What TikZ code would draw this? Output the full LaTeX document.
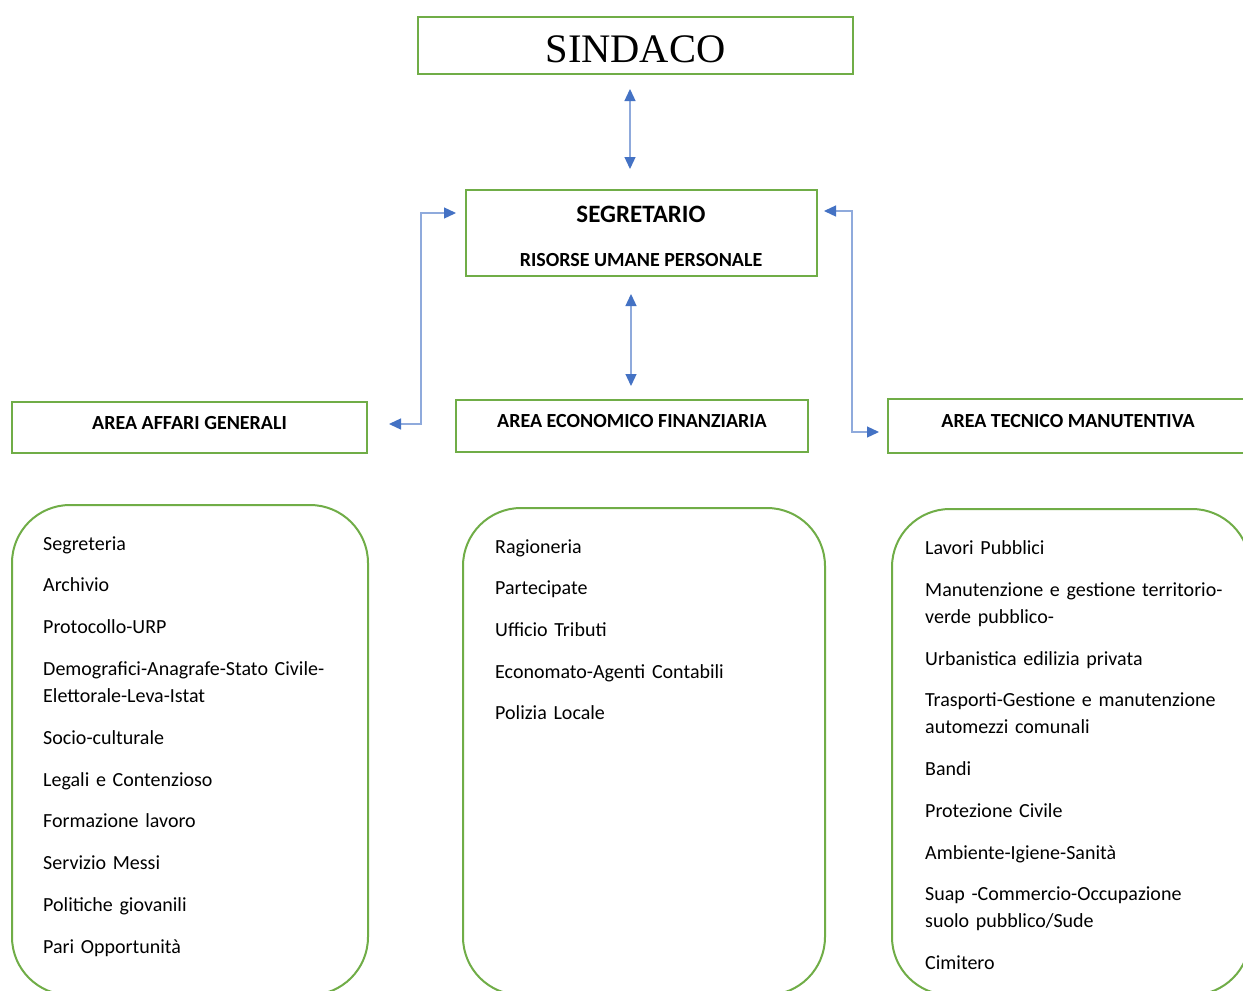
\documentclass[tikz,border=0pt]{standalone}
\usepackage{fontspec}
\setmainfont{Carlito}
\newfontfamily\sindacofont{Liberation Serif}
\usetikzlibrary{arrows.meta}
\definecolor{boxgreen}{HTML}{70AD47}
\definecolor{arrblue}{HTML}{4472C4}
\definecolor{lineblue}{HTML}{8FAADC}

\tikzset{
  box/.style={draw=boxgreen, line width=2pt, inner sep=0pt},
  areabox/.style={box, font=\fontsize{20}{24}\selectfont\bfseries, text height=13pt, text depth=10pt},
  listbox/.style={draw=boxgreen, line width=2pt, rounded corners=58pt},
  voce/.style={anchor=base west, inner sep=0pt, text width=320pt, align=left, font=\fontsize{20}{27}\selectfont},
  arr/.style={draw=lineblue, line width=1.3pt, arrows={Triangle[length=12pt,width=11pt,color=arrblue]-Triangle[length=12pt,width=11pt,color=arrblue]}}
}

\begin{document}
\begin{tikzpicture}[x=1pt,y=-1pt]
	\useasboundingbox[fill=white] (0,0) rectangle (1243,991);
	\clip (0,0) rectangle (1243,991);

	% vertici
	\node[box, minimum width=435pt, minimum height=57pt, text height=33pt, text depth=0pt, font=\fontsize{40.5}{44}\selectfont\sindacofont] (sindaco) at (635.5,45.5) {SINDACO};
	\node[box, minimum width=351pt, minimum height=86pt] (segr) at (641.5,233) {};
	\node[font=\fontsize{25}{28}\selectfont\bfseries] (segrtit) at (641,214) {SEGRETARIO};
	\node[font=\fontsize{20}{24}\selectfont\bfseries] (segrsub) at (641,260) {RISORSE UMANE PERSONALE};

	% aree
	\node[areabox, minimum width=355pt, minimum height=51pt] (a1) at (189.5,427.5) {AREA AFFARI GENERALI};
	\node[areabox, minimum width=352pt, minimum height=52pt] (a2) at (632,426) {AREA ECONOMICO FINANZIARIA};
	\node[areabox, minimum width=360pt, minimum height=54pt] (a3) at (1068,426) {AREA TECNICO MANUTENTIVA};

	% collegamenti
	\draw[arr] ([xshift=-5.5pt,yshift=-14pt]sindaco.south) -- ([xshift=-11.5pt,yshift=20pt]segr.north);
	\draw[arr] ([xshift=-10.5pt,yshift=-17pt]segr.south) -- ([xshift=-1pt,yshift=13pt]a2.north);
	\draw[arr] ([xshift=-9pt,yshift=20pt]segr.west) -- ++(-35,0) |- ([xshift=21pt,yshift=3.5pt]a1.east);
	\draw[arr] ([xshift=6pt,yshift=22pt]segr.east) -- ++(28,0) |- ([xshift=-8pt,yshift=-6pt]a3.west);

	% riquadri
	\draw[listbox] (12,505) rectangle (368,995);
	\draw[listbox] (463,508) rectangle (825,995);
	\draw[listbox] (892,509) rectangle (1250,995);

	% uffici
	\foreach \t/\y [count=\i] in {Segreteria/550, Archivio/591, Protocollo-URP/633,
	    {Demografici-Anagrafe-Stato Civile-\\Elettorale-Leva-Istat}/675, Socio-culturale/744,
	    Legali e Contenzioso/786, Formazione lavoro/827, Servizio Messi/869,
	    Politiche giovanili/911, Pari Opportunità/953}
	  \node[voce] (l\i) at (43,\y) {\t};
	\foreach \t/\y [count=\i] in {Ragioneria/553, Partecipate/594, Ufficio Tributi/636,
	    Economato-Agenti Contabili/678, Polizia Locale/719}
	  \node[voce] (m\i) at (495,\y) {\t};
	\foreach \t/\y [count=\i] in {Lavori Pubblici/554,
	    {Manutenzione e gestione territorio-\\verde pubblico-}/596, Urbanistica edilizia privata/665,
	    {Trasporti-Gestione e manutenzione\\automezzi comunali}/706, Bandi/775, Protezione Civile/817,
	    Ambiente-Igiene-Sanità/859, {Suap -Commercio-Occupazione\\suolo pubblico/Sude}/900, Cimitero/969}
	  \node[voce] (r\i) at (925,\y) {\t};
\end{tikzpicture}
\end{document}
